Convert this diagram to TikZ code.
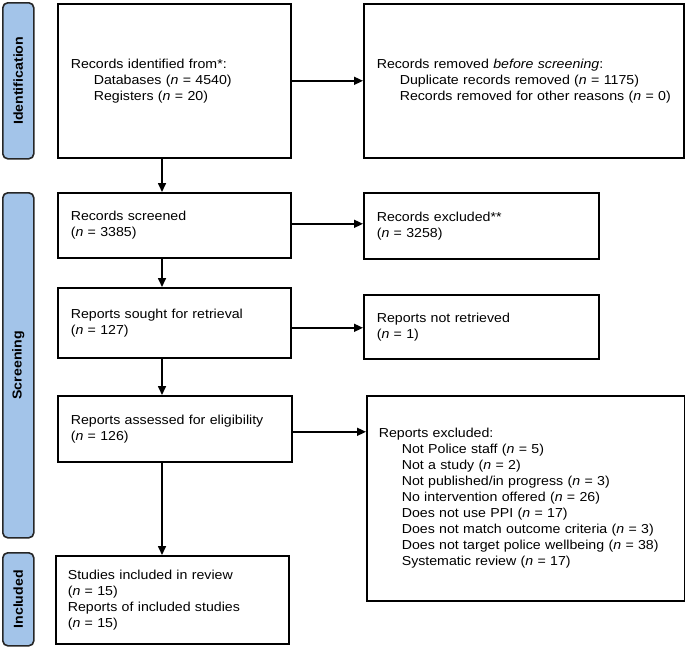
\documentclass[tikz,border=0pt]{standalone}
\usepackage{fontspec}
\setmainfont{Liberation Sans}[FakeStretch=1.09]
\usetikzlibrary{arrows.meta}
\definecolor{bandblue}{RGB}{163,196,233}
\begin{document}
\begin{tikzpicture}[x=1pt,y=-1pt,
 box/.style={draw=black, line width=1.6pt, align=left, inner xsep=13pt, inner ysep=0pt,
   font=\fontsize{13}{16}\selectfont, anchor=north west},
 band/.style={draw=black!85, fill=bandblue, rounded corners=5pt, line width=1.6pt,
   anchor=north west, inner sep=0pt, minimum width=31pt},
 lab/.style={rotate=90, font=\fontsize{13}{16}\selectfont\bfseries, inner sep=0pt},
 arr/.style={-{Triangle[length=9pt,width=8pt]}, line width=1.6pt, black}]
\useasboundingbox (0,0) rectangle (685,648);
\newcommand{\ind}{\hspace*{23pt}}
% bands
\node[band, minimum height=156pt] (bid) at (2,2) {};
\node[lab] at (bid.center) {Identification};
\node[band, minimum height=345pt] (bsc) at (2,192) {};
\node[lab] at (bsc.center) {Screening};
\node[band, minimum height=93pt] (bin) at (2,552) {};
\node[lab] at (bin.center) {Included};
% boxes
\node[box, minimum width=233pt, minimum height=154pt, text width=207pt] (id) at (57,3)
 {Records identified from*:\\\ind Databases (\textit{n} = 4540)\\\ind Registers (\textit{n} = 20)};
\node[box, minimum width=320pt, minimum height=154pt, text width=294pt] (rem) at (363,3)
 {Records removed \textit{before screening}:\\\ind Duplicate records removed (\textit{n} = 1175)\\\ind Records removed for other reasons (\textit{n} = 0)};
\node[box, minimum width=233pt, minimum height=65pt, text width=207pt] (scr) at (57,192)
 {Records screened\\(\textit{n} = 3385)};
\node[box, minimum width=235pt, minimum height=66pt, text width=209pt] (exc) at (363,192)
 {Records excluded**\\(\textit{n} = 3258)};
\node[box, minimum width=233pt, minimum height=70pt, text width=207pt] (sou) at (57,287)
 {Reports sought for retrieval\\(\textit{n} = 127)};
\node[box, minimum width=235pt, minimum height=64pt, text width=209pt] (nr) at (363,294)
 {Reports not retrieved\\(\textit{n} = 1)};
\node[box, minimum width=234pt, minimum height=66pt, text width=208pt] (ass) at (57,395)
 {Reports assessed for eligibility\\(\textit{n} = 126)};
\node[box, minimum width=318pt, minimum height=205pt, inner xsep=12pt, text width=294pt] (rex) at (366,395)
 {Reports excluded:\\\ind Not Police staff (\textit{n} = 5)\\\ind Not a study (\textit{n} = 2)\\\ind Not published/in progress (\textit{n} = 3)\\\ind No intervention offered (\textit{n} = 26)\\\ind Does not use PPI (\textit{n} = 17)\\\ind Does not match outcome criteria (\textit{n} = 3)\\\ind Does not target police wellbeing (\textit{n} = 38)\\\ind Systematic review (\textit{n} = 17)};
\node[box, minimum width=233pt, minimum height=88pt, inner xsep=12pt, text width=209pt] (inc) at (55,555)
 {Studies included in review\\(\textit{n} = 15)\\Reports of included studies\\(\textit{n} = 15)};
% connectors
\coordinate (ax) at (162,0);
\draw[arr] (id.south -| ax) -- (scr.north -| ax);
\draw[arr] (scr.south -| ax) -- (sou.north -| ax);
\draw[arr] (sou.south -| ax) -- (ass.north -| ax);
\draw[arr] (ass.south -| ax) -- (inc.north -| ax);
\draw[arr] (id.east) -- (rem.west);
\draw[arr] ([yshift=1.5pt]scr.east) -- ([yshift=1.5pt]scr.east -| exc.west);
\draw[arr] ([yshift=-5pt]sou.east) -- ([yshift=-5pt]sou.east -| nr.west);
\draw[arr] ([yshift=-3pt]ass.east) -- ([yshift=-3pt]ass.east -| rex.west);
\end{tikzpicture}
\end{document}
